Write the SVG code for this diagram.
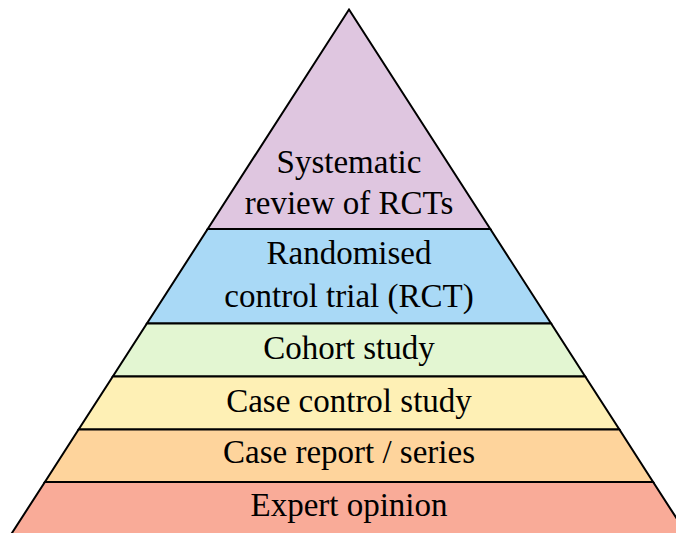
<svg xmlns="http://www.w3.org/2000/svg" width="676" height="533" viewBox="0 0 676 533">
<style>
.band{stroke:#000;stroke-width:2;stroke-linejoin:miter}
.lbl{font-family:"Liberation Serif","Times New Roman",serif;font-size:33px;fill:#000;text-anchor:middle}
</style>
<rect width="676" height="533" fill="#fff"/>
<g id="level1">
<polygon class="band" fill="#dfc6e0" points="349,9.5 490.3,229 207.7,229"/>
<text class="lbl" x="349" y="173">Systematic</text>
<text class="lbl" x="349" y="214">review of RCTs</text>
</g>
<g id="level2">
<polygon class="band" fill="#a9d9f6" points="207.7,229 490.3,229 551.1,323.5 146.9,323.5"/>
<text class="lbl" x="349" y="264">Randomised</text>
<text class="lbl" x="349" y="306.5">control trial (RCT)</text>
</g>
<g id="level3">
<polygon class="band" fill="#e3f6d2" points="146.9,323.5 551.1,323.5 585.2,376.5 112.8,376.5"/>
<text class="lbl" x="349" y="359">Cohort study</text>
</g>
<g id="level4">
<polygon class="band" fill="#fef0b5" points="112.8,376.5 585.2,376.5 619.4,429.5 78.6,429.5"/>
<text class="lbl" x="349" y="411.5">Case control study</text>
</g>
<g id="level5">
<polygon class="band" fill="#fed49c" points="78.6,429.5 619.4,429.5 653.1,482 44.9,482"/>
<text class="lbl" x="349" y="463">Case report / series</text>
</g>
<g id="level6">
<polygon class="band" fill="#f9ab98" points="44.9,482 653.1,482 687,534.5 11,534.5"/>
<text class="lbl" x="349" y="516">Expert opinion</text>
</g>
<g id="connectors"/>
</svg>
